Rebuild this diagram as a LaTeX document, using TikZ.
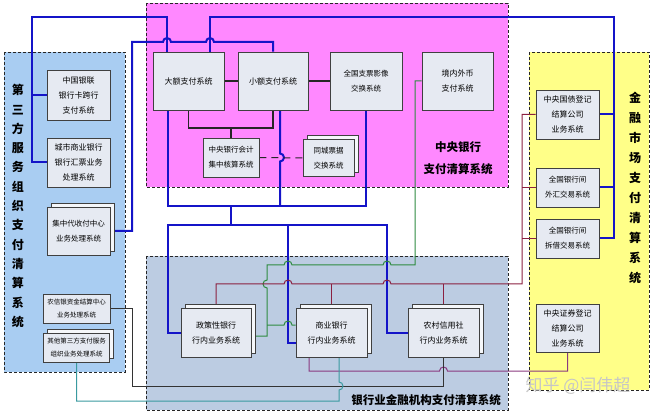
\documentclass[tikz,border=0pt]{standalone}
\usepackage{fontspec}
\setmainfont{Noto Sans CJK SC}
\usetikzlibrary{shadows,calc}
\definecolor{cbpink}{HTML}{FF88FF}
\definecolor{tpblue}{HTML}{A9CDF2}
\definecolor{bkblue}{HTML}{BCCCE2}
\definecolor{fmyellow}{HTML}{FFFF88}
\definecolor{boxfill}{HTML}{E6EAF2}
\definecolor{linkblue}{HTML}{1414C8}
\definecolor{linkgreen}{HTML}{2E8B40}
\definecolor{linkred}{HTML}{8B2040}
\definecolor{linkpurple}{HTML}{8A3A80}
\definecolor{linkteal}{HTML}{3A9AA0}
\pgfdeclarelayer{bg}
\pgfsetlayers{bg,main}
\begin{document}
\begin{tikzpicture}[x=1pt,y=-1pt,
    sys/.style={draw=black!75,line width=.8pt,fill=boxfill,align=center,inner sep=1pt,font=\fontsize{8}{15}\selectfont},
    stack/.style={sys,copy shadow={shadow xshift=4pt,shadow yshift=4pt,draw=black!75,fill=boxfill!40}},
    area/.style={draw=black!85,line width=.9pt,dash pattern=on 3pt off 2pt},
    title/.style={font=\bfseries\fontsize{11.5}{22}\selectfont,align=center},
    vtitle/.style={font=\bfseries\fontsize{12}{#1}\selectfont,align=center},
    bus/.style={linkblue,line width=2pt},
    core/.style={black!85,line width=1.8pt},
    thinlink/.style={line width=1pt,#1}]
\useasboundingbox(0,0)rectangle(655,419);
% central bank
\node[sys,minimum width=71,minimum height=58](dae)at(188.5,81){大额支付系统};
\node[sys,minimum width=70,minimum height=58](xiaoe)at(273,81){小额支付系统};
\node[sys,minimum width=72,minimum height=58,font=\fontsize{7.5}{15}\selectfont](zhipiao)at(366,81){全国支票影像\\交换系统};
\node[sys,minimum width=71,minimum height=58](waibi)at(457.5,81){境内外币\\支付系统};
\node[sys,minimum width=56,minimum height=39,font=\fontsize{7.5}{15}\selectfont](kuaiji)at(231,157.5){中央银行会计\\集中核算系统};
\node[stack,minimum width=51,minimum height=37,font=\fontsize{7.5}{15}\selectfont](tongcheng)at(328.5,158){同城票据\\交换系统};
\node[title](cbtitle)at(458,158){中央银行\\支付清算系统};
% third party
\node[sys,minimum width=63,minimum height=50](yinlian)at(78.5,95){中国银联\\银行卡跨行\\支付系统};
\node[sys,minimum width=63,minimum height=49](chengshang)at(78.5,162.5){城市商业银行\\银行汇票业务\\处理系统};
\node[stack,minimum width=63,minimum height=48,font=\fontsize{7.5}{15}\selectfont](daishoufu)at(78.5,231){集中代收付中心\\业务处理系统};
\node[sys,minimum width=67,minimum height=29,font=\fontsize{6.5}{13}\selectfont](nongxin)at(76.5,308.5){农信银资金结算中心\\业务处理系统};
\node[stack,minimum width=66,minimum height=29,font=\fontsize{6.5}{13}\selectfont](qita)at(76.5,347.5){其他第三方支付服务\\组织业务处理系统};
\node[vtitle=19.3](tptitle)at(18,206){第\\三\\方\\服\\务\\组\\织\\支\\付\\清\\算\\系\\统};
% financial market
\node[sys,minimum width=63,minimum height=49](guozhai)at(567.5,114.5){中央国债登记\\结算公司\\业务系统};
\node[sys,minimum width=63,minimum height=39,font=\fontsize{7.5}{15}\selectfont](waihui)at(567.5,187.5){全国银行间\\外汇交易系统};
\node[sys,minimum width=63,minimum height=39,font=\fontsize{7.5}{15}\selectfont](chaijie)at(567.5,238.5){全国银行间\\拆借交易系统};
\node[sys,minimum width=63,minimum height=48](zhengquan)at(567.5,328){中央证券登记\\结算公司\\业务系统};
\node[vtitle=20](fmtitle)at(635,187.5){金\\融\\市\\场\\支\\付\\清\\算\\系\\统};
% banks
\node[stack,minimum width=70,minimum height=49](zhengce)at(216,332.5){政策性银行\\行内业务系统};
\node[stack,minimum width=71,minimum height=49](shangye)at(331.5,332.5){商业银行\\行内业务系统};
\node[stack,minimum width=71,minimum height=49](nongcun)at(443.5,332.5){农村信用社\\行内业务系统};
\node[title](bktitle)at(426,400){银行业金融机构支付清算系统};
\node[font=\fontsize{17}{17}\selectfont,text=gray!45](mark)at(578,386){知乎 @闫伟超};
\begin{pgfonlayer}{bg}
\path[area,fill=cbpink](146,3)rectangle(508,187);
\path[area,fill=tpblue](4,52)rectangle(125,372);
\path[area,fill=bkblue](146,256)rectangle(508,410);
\path[area,fill=fmyellow](529,52)rectangle(649,390);
\coordinate(ta)at(32,17);
\coordinate(tb)at(167,17);
\coordinate(tc)at(210,17);
\coordinate(td)at(614,17);
\coordinate(ba)at(132,42);
\coordinate(rv)at(522,284);
% blue buses
\draw[bus](chengshang.west)-|(ta)--(tb)--(tb|-dae.north);
\draw[bus](yinlian.west)--(yinlian.west-|ta);
\draw[bus](tc|-dae.north)--(tc)--(td)|-(chaijie.east);
\draw[bus](guozhai.east)--(guozhai.east-|td);
\draw[bus](waihui.east)--(waihui.east-|td);
\draw[bus](daishoufu.east)-|(ba)--(163,42)arc[start angle=180,end angle=0,radius=4pt]
    --(206,42)arc[start angle=180,end angle=0,radius=4pt]--(xiaoe.north|-ba)--(xiaoe.north);
\draw[bus](dae.south-|168,0)--(168,206)--(366,206)--(zhipiao.south);
\draw[bus]($(xiaoe.south)+(7,0)$)--(280,153.5)arc[start angle=90,end angle=-90,radius=4pt]--(280,206);
\draw[bus](231,206)--(231,225);
\draw[bus](zhengce.west)-|(168,225)--(387,225)|-(nongcun.west);
\draw[bus](288,225)|-($(shangye.west)+(0,10.5)$);
% central bank links
\draw[core](dae)--(xiaoe);
\draw[core](xiaoe)--(zhipiao);
\draw[core](dae.south)--(188.5,128)-|(xiaoe.south);
\draw[core](231,128)--(kuaiji.north);
\draw[black!85,line width=1pt,dash pattern=on 7pt off 5pt](kuaiji)--(tongcheng);
% thin links
\draw[thinlink=linkgreen](waibi.west)-|(415,265)--(391,265)arc[start angle=0,end angle=180,radius=4pt]
    --(292,265)arc[start angle=0,end angle=180,radius=4pt]--(267,265)
    --(267,280)arc[start angle=90,end angle=270,radius=4pt]--(267,336)--($(zhengce.east)+(0,3.5)$);
\draw[thinlink=linkgreen](267,325)--(284,325)arc[start angle=180,end angle=0,radius=4pt]--($(shangye.west)+(0,-7.5)$);
\draw[thinlink=linkred](guozhai.west)-|(rv)--(391,284)arc[start angle=0,end angle=180,radius=4pt]
    --(292,284)arc[start angle=0,end angle=180,radius=4pt]--(zhengce.north|-rv)--(zhengce.north);
\draw[thinlink=linkred](waihui.west)--(waihui.west-|rv);
\draw[thinlink=linkred](chaijie.west)--(chaijie.west-|rv);
\draw[thinlink=linkred](shangye.north|-rv)--(shangye.north);
\draw[thinlink=linkred](nongcun.north|-rv)--(nongcun.north);
\draw[thinlink=linkpurple]($(shangye.south)+(-22.5,0)$)--(309,371)--(439.5,371)
    arc[start angle=180,end angle=0,radius=4pt]-|(zhengquan.south);
\draw[thinlink=black!80](nongxin.east)-|(132,386)-|(nongcun.south);
\draw[thinlink=linkteal](qita.south)|-(339,401)--(339,390)arc[start angle=-90,end angle=90,radius=4pt]
    --($(shangye.south)+(7.5,0)$);
\end{pgfonlayer}
\end{tikzpicture}
\end{document}
